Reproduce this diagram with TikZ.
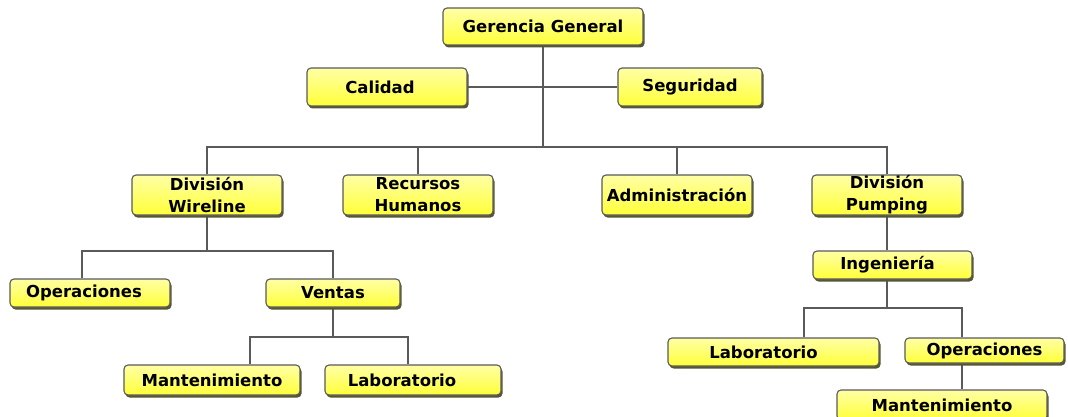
\documentclass[tikz,border=0pt]{standalone}
\usepackage{fontspec}
\setmainfont{DejaVu Sans}
\usetikzlibrary{shadows,backgrounds}
\definecolor{linegray}{RGB}{90,90,90}
\definecolor{shadowol}{RGB}{85,85,55}
\tikzset{
  orgbox/.style={draw=linegray, line width=1.1pt, rounded corners=4pt,
    top color=yellow!35, middle color=yellow!6, bottom color=yellow!78,
    drop shadow={shadow xshift=1.5pt, shadow yshift=-2.5pt, fill=shadowol, opacity=1},
    font=\bfseries\fontsize{16.5}{22}\selectfont, align=center, inner sep=0pt},
  link/.style={draw=linegray, line width=2pt}
}
% box with corners given in pixel coordinates: (x1,y1) top-left, (x2,y2) bottom-right
\newcommand\orgnode[6]{%
  \node[orgbox, minimum width=#4-#2, minimum height=#5-#3] (#1) at ({(#2+#4)/2},{(#3+#5)/2}) {#6};}
\begin{document}
\begin{tikzpicture}[x=1pt, y=-1pt]
\useasboundingbox (0,0) rectangle (1068,417);

\orgnode{gg}{443}{8}{643}{45}{Gerencia General}
\orgnode{ca}{307}{68}{467}{106}{Calidad\hspace{14pt}}
\orgnode{se}{618}{68}{762}{106}{Seguridad}
\orgnode{dw}{132}{175}{282}{215}{División\\Wireline}
\orgnode{rh}{343}{175}{493}{215}{Recursos\\Humanos}
\orgnode{ad}{602}{175}{752}{215}{Administración}
\orgnode{dp}{812}{175}{962}{215}{División\\Pumping}
\orgnode{op}{10}{279}{170}{307}{Operaciones\hspace{12pt}}
\orgnode{ve}{266}{279}{400}{307}{Ventas}
\orgnode{mt}{124}{365}{300}{395}{Mantenimiento}
\orgnode{lb}{325}{365}{501}{395}{Laboratorio\hspace{22pt}}
\orgnode{in}{813}{251}{972}{279}{Ingeniería\hspace{10pt}}
\orgnode{lr}{668}{338}{879}{366}{Laboratorio\hspace{20pt}}
\orgnode{or}{905}{338}{1064}{363}{Operaciones}
\orgnode{mr}{837}{390}{1047}{420}{Mantenimiento}

% junction points of the connector buses
\coordinate (b2) at (0,147);
\coordinate (b3l) at (82,251);
\coordinate (b3r) at (333,251);
\coordinate (b4l) at (250,337);
\coordinate (b4r) at (408,337);
\coordinate (b5l) at (804,308);
\coordinate (b5r) at (962,308);

\begin{scope}[on background layer]
\fill[white] (0,0) rectangle (1068,417);
\begin{scope}[link]
\draw (gg.south) -- (gg.south |- b2);
\draw (ca.east) -- (se.west);
\draw (dw.north) -- (dw.north |- b2) -- (dp.north |- b2) -- (dp.north);
\draw (rh.north) -- (rh.north |- b2);
\draw (ad.north) -- (ad.north |- b2);
\draw (dw.south) -- (dw.south |- b3l);
\draw (b3l |- op.north) -- (b3l) -- (b3r) -- (b3r |- ve.north);
\draw (ve.south) -- (ve.south |- b4l);
\draw (b4l |- mt.north) -- (b4l) -- (b4r) -- (b4r |- lb.north);
\draw (dp.south) -- (in.north -| dp.south);
\draw (in.south -| dp.south) -- (dp.south |- b5l);
\draw (b5l |- lr.north) -- (b5l) -- (b5r) -- (b5r |- or.north);
\draw (b5r |- or.south) -- (b5r |- mr.north);
\end{scope}
\end{scope}
\end{tikzpicture}
\end{document}
